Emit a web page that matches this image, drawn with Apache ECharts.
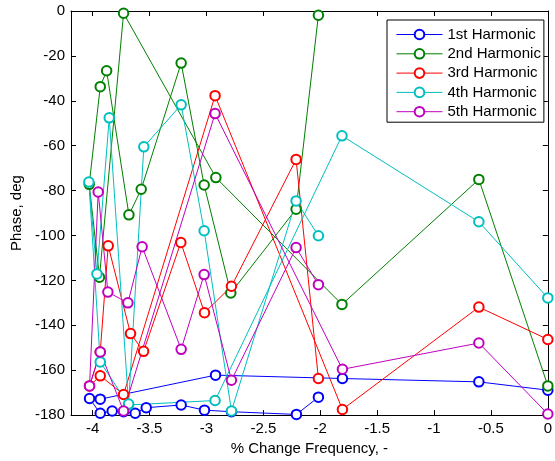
<!DOCTYPE html>
<html><head><meta charset="utf-8">
<script src="https://cdn.jsdelivr.net/npm/echarts@6/dist/echarts.min.js"></script>
<style>html,body{margin:0;padding:0;background:#fff}#c{width:555px;height:461px}</style>
</head><body><div id="c"></div>
<script>
const seriesNames = ['1st Harmonic','2nd Harmonic','3rd Harmonic','4th Harmonic','5th Harmonic'];
const xTicks = [-4,-3.5,-3,-2.5,-2,-1.5,-1,-0.5,0];
const yTicks = [0,-20,-40,-60,-80,-100,-120,-140,-160,-180];

const h1x = [0,-0.606,-1.805,-2.92,-3.933,-4.027,-3.933,-3.828,-3.728,-3.626,-3.529,-3.222,-3.017,-2.78,-2.209,-2.016];
const h1y = [-168.9,-165.2,-163.7,-162.2,-172.9,-172.6,-179.2,-178.2,-178.5,-179.2,-176.7,-175.5,-177.8,-178.5,-179.7,-172];

const h2x = [0,-0.606,-1.809,-2.917,-3.728,-3.94,-4.03,-3.933,-3.877,-3.681,-3.573,-3.222,-3.02,-2.786,-2.212,-2.016];
const h2y = [-167,-75,-130.7,-74.2,-1,-118.6,-77.2,-33.7,-26.6,-90.8,-79.4,-23.2,-77.5,-125.6,-88.3,-1.9];

const h3x = [0,-0.606,-1.805,-2.924,-3.728,-3.933,-4.027,-3.933,-3.863,-3.667,-3.552,-3.225,-3.017,-2.78,-2.212,-2.016];
const h3y = [-146.3,-131.9,-177.5,-37.7,-170.8,-162.5,-167,-151.9,-104.6,-143.7,-151.6,-103.1,-134.4,-122.6,-66.1,-163.7];

const h4x = [0,-0.606,-1.809,-2.924,-3.684,-3.933,-4.033,-3.962,-3.854,-3.684,-3.55,-3.222,-3.02,-2.78,-2.212,-2.016];
const h4y = [-127.8,-93.9,-55.6,-173.5,-175.5,-156.3,-76.2,-117.1,-47.6,-175.1,-60.5,-41.8,-97.9,-178.2,-84.6,-100.1];

const h5x = [0,-0.606,-1.805,-2.924,-3.728,-3.933,-4.027,-3.951,-3.866,-3.69,-3.565,-3.222,-3.02,-2.78,-2.212,-2.016];
const h5y = [-179.5,-147.9,-159.6,-45.7,-178.2,-151.9,-167,-80.6,-125.2,-130,-105,-150.7,-117.4,-164.5,-105.4,-121.9];

const colors = ['#0000ff','#008000','#ff0000','#00bfbf','#bf00bf'];
const allX = [h1x,h2x,h3x,h4x,h5x];
const allY = [h1y,h2y,h3y,h4y,h5y];

const FONT = 'Liberation Sans, Arial, sans-serif';
const FS = 15;
const chart = echarts.init(document.getElementById('c'), null, {renderer:'canvas'});
const axisCommon = {
  axisLine:{show:true,onZero:false,lineStyle:{color:'#000',width:1}},
  axisTick:{show:true,inside:true,length:5,lineStyle:{color:'#000',width:1}},
  splitLine:{show:false}
};
chart.setOption({
  animation:false,
  backgroundColor:'#fff',
  textStyle:{fontFamily:FONT},
  grid:{left:71,right:6,top:11,bottom:44.5,containLabel:false},
  legend:{
    orient:'vertical', left:387, top:20,
    data:seriesNames,
    backgroundColor:'#fff', borderColor:'#000', borderWidth:1, borderRadius:0,
    padding:[7,3,3,9], itemGap:4.3, itemWidth:46, itemHeight:12,
    lineStyle:{width:1}, itemStyle:{borderWidth:1},
    textStyle:{fontFamily:FONT,fontSize:FS,lineHeight:15,color:'#000',padding:[0,0,0,0]}
  },
  xAxis:[
    Object.assign({type:'value',min:-4.19,max:0,position:'bottom',
      name:'% Change Frequency, -',nameLocation:'middle',nameGap:25,
      nameTextStyle:{fontFamily:FONT,fontSize:FS,color:'#000'},
      axisLabel:{customValues:xTicks,margin:6,fontFamily:FONT,fontSize:FS,color:'#000',formatter:v=>String(v)}},
      axisCommon,{axisTick:Object.assign({},axisCommon.axisTick,{customValues:xTicks})}),
    Object.assign({type:'value',min:-4.19,max:0,position:'top',axisLabel:{show:false}},
      axisCommon,{axisTick:Object.assign({},axisCommon.axisTick,{customValues:xTicks})})
  ],
  yAxis:[
    Object.assign({type:'value',min:-180,max:0,interval:20,position:'left',
      name:'Phase, deg',nameLocation:'middle',nameGap:38,
      nameTextStyle:{fontFamily:FONT,fontSize:FS,color:'#000'},
      axisLabel:{margin:6,fontFamily:FONT,fontSize:FS,color:'#000'}},axisCommon),
    Object.assign({type:'value',min:-180,max:0,interval:20,position:'right',axisLabel:{show:false}},axisCommon)
  ],
  series: seriesNames.map((n,i)=>({
    name:n,type:'line',xAxisIndex:0,yAxisIndex:0,
    data: allX[i].map((x,j)=>[x,allY[i][j]]),
    symbol:'emptyCircle',symbolSize:9.5,showSymbol:true,
    itemStyle:{color:colors[i],borderWidth:1},
    lineStyle:{color:colors[i],width:1},
    emphasis:{disabled:true}
  }))
});
</script></body></html>
